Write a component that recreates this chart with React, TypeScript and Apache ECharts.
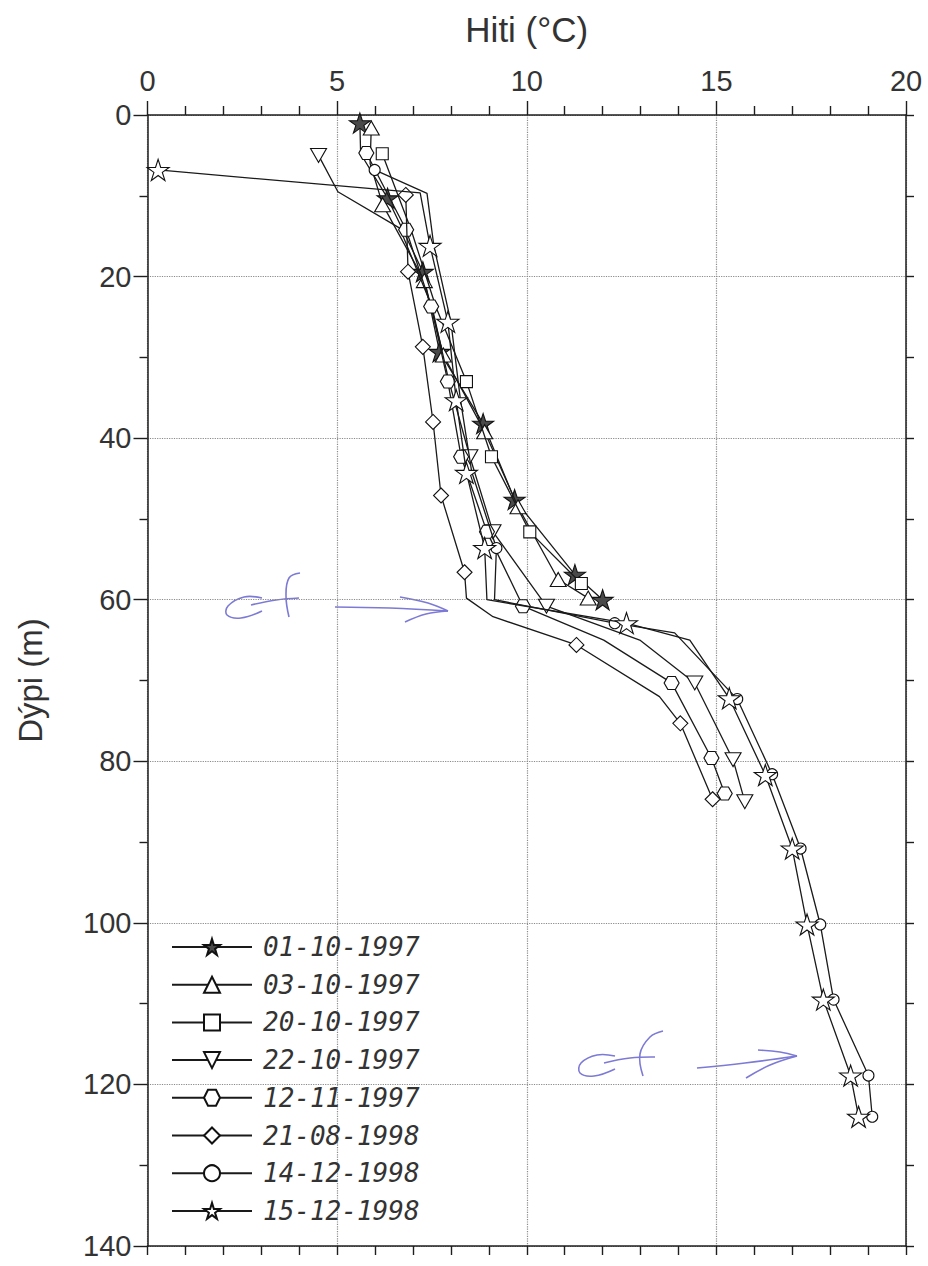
import React, { useEffect, useRef } from 'react';
import * as echarts from 'echarts';

// ---------- data ----------
const seriesNames = ['01-10-1997', '03-10-1997', '20-10-1997', '22-10-1997', '12-11-1997', '21-08-1998', '14-12-1998', '15-12-1998'];

// temperature (°C), depth (m), marker shown (1) or line vertex only (0)
const s1Temp = [5.6, 5.62, 6.33, 7.26, 7.7, 8.85, 9.68, 11.27, 12.0];
const s1Depth = [1, 4.8, 10.3, 19.4, 29.3, 38.2, 47.6, 56.9, 60];
const s1Mark = [1, 0, 1, 1, 1, 1, 1, 1, 1];

const s2Temp = [5.9, 5.87, 6.2, 7.3, 7.8, 8.89, 9.77, 10.83, 11.62];
const s2Depth = [1.6, 6, 11.1, 20.5, 29.7, 39.2, 48.5, 57.5, 59.8];
const s2Mark = [1, 0, 1, 1, 1, 1, 1, 1, 1];

const s3Temp = [6.19, 6.95, 7.6, 8.41, 9.07, 10.08, 11.44];
const s3Depth = [4.8, 14.2, 23.7, 33, 42.3, 51.6, 58];
const s3Mark = [1, 0, 0, 1, 1, 1, 1];

const s4Temp = [4.51, 5.02, 6.65, 7.5, 7.95, 8.5, 9.11, 10.52, 12.98, 14.43, 15.44, 15.75];
const s4Depth = [5.0, 9.5, 14.0, 23.7, 33, 42.3, 51.6, 60.8, 65, 70.3, 79.8, 85];
const s4Mark = [1, 0, 0, 0, 0, 1, 1, 1, 0, 1, 1, 1];

const s5Temp = [5.77, 6.82, 7.48, 7.92, 8.27, 8.95, 9.9, 12.03, 13.82, 14.87, 15.22];
const s5Depth = [4.7, 14.2, 23.7, 33, 42.3, 51.6, 60.8, 65, 70.3, 79.6, 84];
const s5Mark = [1, 1, 1, 1, 1, 1, 1, 0, 1, 1, 1];

const s6Temp = [6.81, 6.87, 7.26, 7.53, 7.74, 8.36, 8.41, 9.11, 11.31, 13.5, 14.05, 14.9];
const s6Depth = [9.9, 19.4, 28.7, 38, 47.1, 56.6, 59.8, 62.1, 65.6, 72, 75.3, 84.7];
const s6Mark = [1, 1, 1, 1, 1, 1, 0, 0, 1, 0, 1, 1];

const s7Temp = [5.99, 7.37, 7.55, 8.0, 8.25, 8.55, 9.2, 9.15, 12.32, 13.9, 15.55, 16.47, 17.22, 17.74, 18.09, 19.01, 19.11];
const s7Depth = [6.8, 9.7, 16.2, 25.6, 35.2, 44.2, 53.6, 60, 62.9, 64.1, 72.3, 81.6, 90.8, 100.2, 109.5, 118.9, 124];
const s7Mark = [1, 0, 0, 0, 0, 0, 1, 0, 1, 0, 1, 1, 1, 1, 1, 1, 1];

const s8Temp = [0.28, 7.19, 7.45, 7.92, 8.14, 8.41, 8.89, 8.95, 12.63, 14.3, 15.34, 16.29, 17.0, 17.39, 17.82, 18.54, 18.75];
const s8Depth = [6.8, 9.65, 16.2, 25.6, 35.3, 44.3, 53.6, 60, 62.9, 65, 72.2, 81.7, 90.8, 100.2, 109.5, 118.9, 124];
const s8Mark = [1, 0, 1, 1, 1, 1, 1, 0, 1, 0, 1, 1, 1, 1, 1, 1, 1];

const xMin = 0, xMax = 20, xStep = 5;
const yMin = 0, yMax = 140, yStep = 20;

// ---------- symbols ----------
const STAR = 'path://M50,0 L61.23,34.55 L97.55,34.55 L68.16,55.9 L79.39,90.45 L50,69.1 L20.61,90.45 L31.84,55.9 L2.45,34.55 L38.77,34.55 Z';
const TRI_DOWN = 'path://M0,0 L10,0 L5,9 Z';
const TRI_UP = 'path://M5,0 L10,9 L0,9 Z';
const HEX = 'path://M0,8.66 L5,0 L15,0 L20,8.66 L15,17.32 L5,17.32 Z';

const seriesDefs = [
  { t: s1Temp, d: s1Depth, m: s1Mark, symbol: STAR, size: [21, 20], fill: '#4a4a4a' },
  { t: s2Temp, d: s2Depth, m: s2Mark, symbol: TRI_UP, size: [16, 14], fill: '#fff' },
  { t: s3Temp, d: s3Depth, m: s3Mark, symbol: 'rect', size: [12, 12], fill: '#fff' },
  { t: s4Temp, d: s4Depth, m: s4Mark, symbol: TRI_DOWN, size: [16, 14], fill: '#fff' },
  { t: s5Temp, d: s5Depth, m: s5Mark, symbol: HEX, size: [15, 13], fill: '#fff' },
  { t: s6Temp, d: s6Depth, m: s6Mark, symbol: 'diamond', size: [15, 15], fill: '#fff' },
  { t: s7Temp, d: s7Depth, m: s7Mark, symbol: 'circle', size: [11, 11], fill: '#fff' },
  { t: s8Temp, d: s8Depth, m: s8Mark, symbol: STAR, size: [22, 21], fill: '#fff' },
];

function mkData(t: number[], d: number[], m: number[]) {
  return t.map((v, i) => (m[i] ? [v, d[i]] : { value: [v, d[i]], symbol: 'none' }));
}

const FONT = "'Liberation Sans', Arial, sans-serif";
const AX = '#1e1e1e';
const PEN = '#7d7ad6';

export default function App() {
  const ref = useRef<HTMLDivElement>(null);

  useEffect(() => {
    if (!ref.current) return;
    const chart = echarts.init(ref.current, undefined, { renderer: 'svg' });

    const series = seriesDefs.map((s, i) => ({
      name: seriesNames[i],
      type: 'line',
      xAxisIndex: 0,
      yAxisIndex: 0,
      data: mkData(s.t, s.d, s.m),
      symbol: s.symbol,
      symbolSize: s.size,
      showSymbol: true,
      showAllSymbol: true,
      lineStyle: { color: '#1a1a1a', width: 1.3 },
      itemStyle: { color: s.fill, borderColor: '#111', borderWidth: 1.1 },
      emphasis: { disabled: true },
      z: 3 + i,
    }));

    const pen = (points: number[][]) => ({
      type: 'polyline',
      shape: { points, smooth: 0.4 },
      style: { stroke: PEN, lineWidth: 1.6, fill: null },
      silent: true,
    });

    chart.setOption({
      animation: false,
      backgroundColor: '#fff',
      grid: { left: 147.5, right: 22, top: 115, bottom: 20, containLabel: false, outerBoundsMode: 'none' },
      xAxis: [
        {
          type: 'value', position: 'top', min: xMin, max: xMax, interval: xStep,
          name: 'Hiti (°C)', nameLocation: 'middle', nameGap: 68,
          nameTextStyle: { fontSize: 35, color: '#333', fontFamily: FONT },
          axisLine: { show: true, onZero: false, lineStyle: { color: AX, width: 1.5 } },
          axisTick: { show: true, length: 14, lineStyle: { color: AX, width: 1.4 } },
          minorTick: { show: true, splitNumber: 5, length: 9, lineStyle: { color: AX, width: 1.4 } },
          axisLabel: { fontSize: 29, color: '#333', fontFamily: FONT, margin: 20 },
          splitLine: { show: true, lineStyle: { type: 'dotted', color: '#8a8a8a', width: 1.2 } },
        },
        {
          type: 'value', position: 'bottom', min: xMin, max: xMax, interval: xStep,
          axisLine: { show: true, onZero: false, lineStyle: { color: AX, width: 1.5 } },
          axisTick: { show: true, length: 9, lineStyle: { color: AX, width: 1.4 } },
          minorTick: { show: true, splitNumber: 5, length: 9, lineStyle: { color: AX, width: 1.4 } },
          axisLabel: { show: false },
          splitLine: { show: false },
        },
      ],
      yAxis: [
        {
          type: 'value', position: 'left', inverse: true, min: yMin, max: yMax, interval: yStep,
          name: 'Dýpi (m)', nameLocation: 'middle', nameGap: 101, nameRotate: 90,
          nameTextStyle: { fontSize: 33, color: '#333', fontFamily: FONT },
          axisLine: { show: true, onZero: false, lineStyle: { color: AX, width: 1.5 } },
          axisTick: { show: true, length: 14, lineStyle: { color: AX, width: 1.4 } },
          minorTick: { show: true, splitNumber: 2, length: 8, lineStyle: { color: AX, width: 1.4 } },
          axisLabel: { fontSize: 29, color: '#333', fontFamily: FONT, margin: 16 },
          splitLine: { show: true, lineStyle: { type: 'dotted', color: '#8a8a8a', width: 1.2 } },
        },
        {
          type: 'value', position: 'right', inverse: true, min: yMin, max: yMax, interval: yStep,
          axisLine: { show: true, onZero: false, lineStyle: { color: AX, width: 1.5 } },
          axisTick: { show: true, length: 8, lineStyle: { color: AX, width: 1.4 } },
          minorTick: { show: true, splitNumber: 2, length: 8, lineStyle: { color: AX, width: 1.4 } },
          axisLabel: { show: false },
          splitLine: { show: false },
        },
      ],
      legend: {
        orient: 'vertical', left: 166, top: 929,
        itemWidth: 80, itemHeight: 20, itemGap: 11.7,
        data: seriesNames,
        selectedMode: false,
        textStyle: {
          fontFamily: "'DejaVu Sans Mono', 'Liberation Mono', monospace",
          fontStyle: 'italic', fontSize: 26, color: '#333', lineHeight: 24,
          padding: [0, 0, 0, 6],
        },
      },
      graphic: [
        // handwritten pen marks
        pen([[262, 598], [244, 597], [228, 606], [227, 615], [241, 618], [262, 611]]),
        pen([[300, 573], [289, 578], [286, 596], [289, 617]]),
        pen([[251, 605], [276, 600], [299, 598]]),
        pen([[335, 607], [390, 608], [448, 611]]),
        pen([[400, 597], [428, 603], [448, 611]]),
        pen([[405, 622], [426, 614], [448, 611]]),
        pen([[615, 1056], [597, 1055], [581, 1063], [580, 1073], [594, 1076], [615, 1069]]),
        pen([[663, 1031], [650, 1037], [640, 1054], [643, 1076]]),
        pen([[604, 1063], [630, 1058], [655, 1057]]),
        pen([[697, 1068], [745, 1063], [797, 1056]]),
        pen([[758, 1050], [780, 1052], [797, 1056]]),
        pen([[746, 1078], [770, 1065], [797, 1056]]),
      ],
      series,
    });

    return () => chart.dispose();
  }, []);

  return (
    <div
      ref={ref}
      style={{ position: 'fixed', left: 0, top: 0, width: 928, height: 1266, background: '#fff' }}
    />
  );
}
